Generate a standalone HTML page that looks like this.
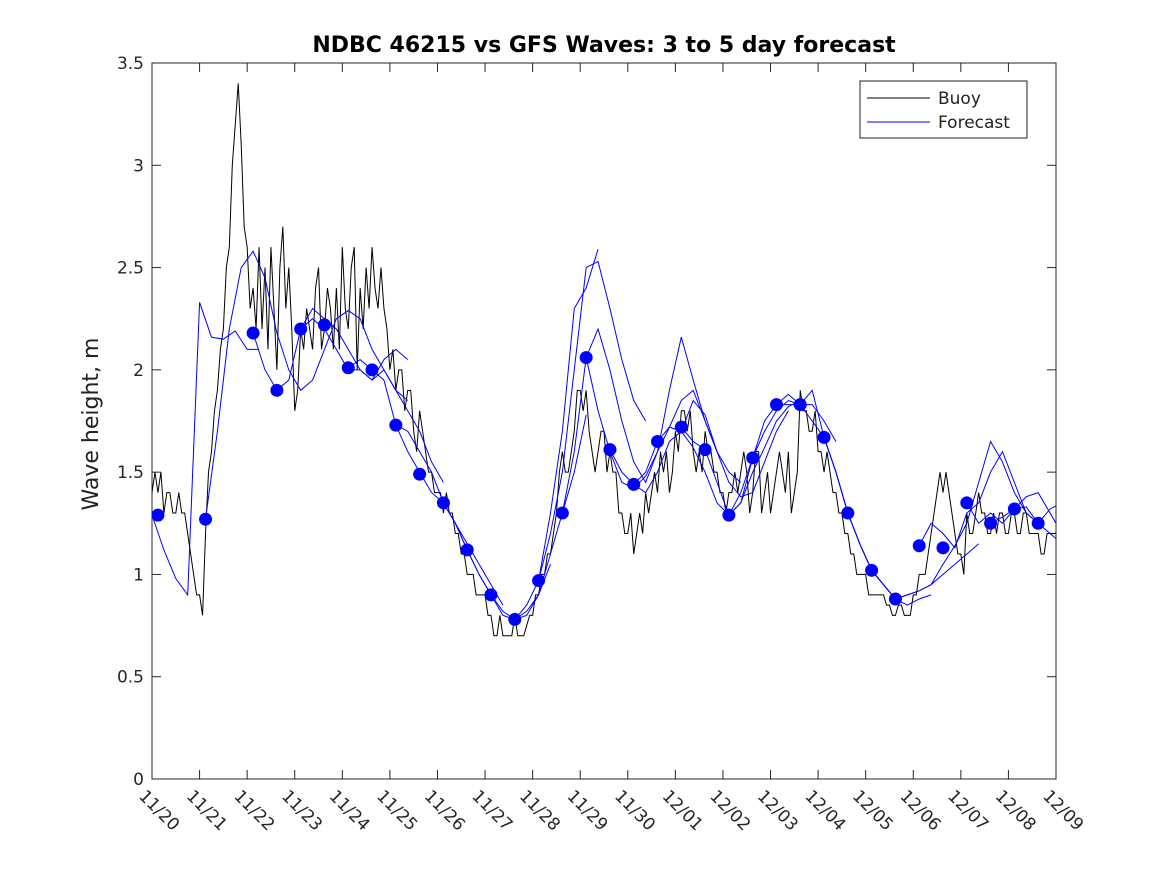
<!DOCTYPE html>
<html><head><meta charset="utf-8"><style>
body{margin:0;background:#fff}
svg{display:block;font-family:"DejaVu Sans","Liberation Sans",sans-serif}
</style></head><body>
<svg id="chart" width="1167" height="875">
<defs><clipPath id="clip"><rect x="152" y="63" width="904" height="716"/></clipPath></defs>
<rect width="1167" height="875" fill="#fff"/>
<text x="604" y="52" text-anchor="middle" font-size="22" font-weight="bold" fill="#000">NDBC 46215 vs GFS Waves: 3 to 5 day forecast</text>
<text transform="translate(98,424) rotate(-90)" text-anchor="middle" font-size="22" fill="#222">Wave height, m</text>
<g id="axes"></g>
<g id="plot" clip-path="url(#clip)"></g>
<g>
<rect x="860" y="81" width="167" height="57" fill="#fff" stroke="#222" stroke-width="1"/>
<line x1="867" y1="98" x2="930" y2="98" stroke="#000"/>
<text x="938" y="104" font-size="17" fill="#222">Buoy</text>
<line x1="867" y1="122" x2="930" y2="122" stroke="#00f"/>
<text x="938" y="128" font-size="17" fill="#222">Forecast</text>
</g>
</svg>
<script>
const dateLabels=["11/20","11/21","11/22","11/23","11/24","11/25","11/26","11/27","11/28","11/29","11/30","12/01","12/02","12/03","12/04","12/05","12/06","12/07","12/08","12/09"];
const yTicks=[0,0.5,1,1.5,2,2.5,3,3.5];
const buoyStep=0.0625;
const buoyValues=[1.4,1.5,1.4,1.5,1.3,1.4,1.4,1.3,1.3,1.4,1.3,1.3,1.2,1.1,1.0,0.9,
0.9,0.8,1.2,1.5,1.6,1.8,1.9,2.1,2.2,2.5,2.6,3.0,3.2,3.4,3.1,2.7,
2.6,2.3,2.4,2.2,2.6,2.2,2.5,2.1,2.6,2.3,2.0,2.5,2.7,2.3,2.5,2.2,
1.8,1.9,2.2,2.1,2.3,2.2,2.1,2.4,2.5,2.1,2.2,2.4,2.3,2.1,2.4,2.1,
2.6,2.3,2.2,2.5,2.6,2.0,2.4,2.2,2.5,2.3,2.6,2.4,2.3,2.5,2.3,2.2,
2.0,2.1,1.9,2.0,2.0,1.8,1.9,1.9,1.7,1.6,1.8,1.7,1.6,1.5,1.5,1.4,
1.4,1.4,1.3,1.4,1.3,1.3,1.2,1.2,1.1,1.1,1.0,1.0,1.0,0.9,0.9,0.9,
0.9,0.8,0.8,0.7,0.7,0.8,0.7,0.7,0.7,0.7,0.8,0.7,0.7,0.7,0.75,0.8,
0.8,0.9,0.9,1.0,1.0,1.1,1.1,1.2,1.3,1.5,1.6,1.5,1.5,1.6,1.7,1.9,
1.9,1.8,1.9,1.7,1.6,1.5,1.6,1.7,1.7,1.5,1.6,1.5,1.5,1.3,1.3,1.2,
1.2,1.3,1.1,1.2,1.3,1.2,1.4,1.3,1.4,1.5,1.4,1.6,1.5,1.6,1.4,1.5,
1.7,1.6,1.8,1.8,1.7,1.8,1.6,1.5,1.6,1.5,1.7,1.6,1.6,1.5,1.5,1.4,
1.4,1.3,1.4,1.4,1.5,1.4,1.5,1.6,1.5,1.3,1.4,1.6,1.6,1.3,1.4,1.5,
1.3,1.4,1.5,1.6,1.5,1.4,1.6,1.3,1.4,1.5,1.9,1.8,1.8,1.7,1.7,1.8,
1.6,1.6,1.5,1.6,1.5,1.4,1.4,1.3,1.3,1.2,1.2,1.1,1.1,1.0,1.0,1.0,
1.0,0.9,0.9,0.9,0.9,0.9,0.9,0.85,0.85,0.8,0.8,0.85,0.85,0.8,0.8,0.8,
0.9,0.9,1.0,1.0,1.0,1.1,1.2,1.3,1.4,1.5,1.4,1.5,1.4,1.3,1.2,1.1,
1.1,1.0,1.3,1.2,1.2,1.3,1.4,1.3,1.3,1.2,1.2,1.3,1.2,1.3,1.3,1.2,
1.2,1.3,1.3,1.2,1.2,1.3,1.3,1.2,1.2,1.2,1.2,1.1,1.1,1.2,1.2,1.2,1.2];
const forecastStep=0.25;
const forecastStarts=[0,1.125,2.125,3.125,4.125,5.125,6.125,7.625,8.125,8.625,9.125,9.625,10.125,11.125,12.125,13.125,14.125,15.125,16.125,17.125,17.625];
const forecastRuns=[
[1.29,1.12,0.98,0.9,2.33,2.16,2.15,2.19,2.1,2.1],
[1.27,1.7,2.2,2.5,2.58,2.45,2.18,2.0,1.9,1.95,2.1,2.25,2.29,2.25,2.1,2.0,1.9,1.85],
[2.18,2.0,1.9,1.95,2.2,2.3,2.25,2.2,2.1,2.0,1.95,2.05,2.1,2.05],
[2.2,2.25,2.2,2.1,2.0,2.0,1.95,2.0,1.9,1.8,1.7,1.55,1.45],
[2.01,2.05,2.0,1.95,1.73,1.7,1.6,1.5,1.35,1.25,1.15,1.05,0.95,0.85],
[1.73,1.6,1.5,1.4,1.35,1.25,1.12,1.0,0.9,0.82,0.78,0.8,0.9,1.05],
[1.35,1.25,1.12,1.0,0.9,0.8,0.78,0.82,0.9,1.1,1.3,1.5,1.78],
[0.78,0.85,0.97,1.2,1.5,2.0,2.5,2.53,2.3,2.05,1.85,1.75],
[0.97,1.3,1.7,2.3,2.4,2.59],
[1.3,1.6,2.06,2.2,2.0,1.75,1.55,1.45,1.6,1.9,2.16,1.95,1.75,1.6],
[2.06,1.8,1.6,1.45,1.42,1.48,1.6,1.72,1.85,1.9,1.75,1.6,1.5,1.45],
[1.61,1.5,1.44,1.4,1.5,1.65,1.7,1.85,1.78,1.6,1.45,1.38,1.4,1.55,1.7,1.8],
[1.44,1.5,1.65,1.72,1.7,1.62,1.5,1.35,1.29,1.35,1.5,1.62,1.75,1.82,1.85],
[1.72,1.65,1.61,1.45,1.29,1.35,1.57,1.7,1.8,1.85,1.83,1.83,1.75,1.65],
[1.29,1.4,1.57,1.75,1.83,1.88,1.83,1.9,1.67,1.5,1.3,1.15,1.02,0.95],
[1.83,1.83,1.83,1.75,1.67,1.5,1.3,1.15,1.02,0.95,0.88,0.85,0.88,0.9],
[1.67,1.5,1.3,1.15,1.02,0.95,0.88,0.9,0.92,0.95,1.0,1.05,1.1,1.15],
[1.02,0.95,0.88,0.9,0.92,0.95,1.05,1.14,1.25,1.45,1.65,1.55,1.4,1.3,1.25],
[1.14,1.25,1.2,1.13,1.3,1.35,1.5,1.6,1.45,1.3,1.25,1.32,1.35,1.25,1.15],
[1.35,1.25,1.3,1.25,1.32,1.38,1.4,1.3,1.2,1.12,1.07,1.08],
[1.25,1.28,1.32,1.33,1.25,1.2,1.15,1.22]];
const dotDays=[0.125,1.125,2.125,2.625,3.125,3.625,4.125,4.625,5.125,5.625,6.125,6.625,7.125,7.625,8.125,8.625,9.125,9.625,10.125,10.625,11.125,11.625,12.125,12.625,13.125,13.625,14.125,14.625,15.125,15.625,16.125,16.625,17.125,17.625,18.125,18.625];
const dotValues=[1.29,1.27,2.18,1.90,2.20,2.22,2.01,2.00,1.73,1.49,1.35,1.12,0.90,0.78,0.97,1.30,2.06,1.61,1.44,1.65,1.72,1.61,1.29,1.57,1.83,1.83,1.67,1.30,1.02,0.88,1.14,1.13,1.35,1.25,1.32,1.25];

const L=152,R=1056,T=63,B=779;
const xs=d=>L+d*(R-L)/19;
const ys=v=>B-v*(B-T)/3.5;
const NS="http://www.w3.org/2000/svg";
function mk(tag,attrs,parent){const e=document.createElementNS(NS,tag);for(const k in attrs)e.setAttribute(k,attrs[k]);parent.appendChild(e);return e;}
const ax=document.getElementById('axes'),pl=document.getElementById('plot');
const frame=mk('rect',{x:L,y:T,width:R-L,height:B-T,fill:'#fff',stroke:'#262626','stroke-width':1},ax);


yTicks.forEach(v=>{
  const y=ys(v);
  mk('line',{x1:L,y1:y,x2:L+9,y2:y,stroke:'#262626'},ax);
  mk('line',{x1:R,y1:y,x2:R-9,y2:y,stroke:'#262626'},ax);
  const t=mk('text',{x:L-8,y:y+6,'text-anchor':'end','font-size':17,fill:'#262626'},ax);
  t.textContent=String(v);
  
  
});
dateLabels.forEach((lab,i)=>{
  const x=xs(i);
  mk('line',{x1:x,y1:B,x2:x,y2:B-9,stroke:'#262626'},ax);
  mk('line',{x1:x,y1:T,x2:x,y2:T+9,stroke:'#262626'},ax);
  const t=mk('text',{x:0,y:0,transform:`translate(${x-14},${B+18}) rotate(45)`,'font-size':17,fill:'#262626'},ax);
  t.textContent=lab;
  
  
});
const bp=mk('polyline',{points:buoyValues.map((v,i)=>xs(i*buoyStep)+','+ys(v)).join(' '),fill:'none',stroke:'#000','stroke-width':1},pl);


forecastRuns.forEach((run,k)=>{
  const p=mk('polyline',{points:run.map((v,i)=>xs(forecastStarts[k]+i*forecastStep)+','+ys(v)).join(' '),fill:'none',stroke:'#00f','stroke-width':1},pl);
  
  
});
dotDays.forEach((d,i)=>{
  const c=mk('circle',{cx:xs(d),cy:ys(dotValues[i]),r:6.5,fill:'#00f'},pl);
  
  
});
</script>
</body></html>
